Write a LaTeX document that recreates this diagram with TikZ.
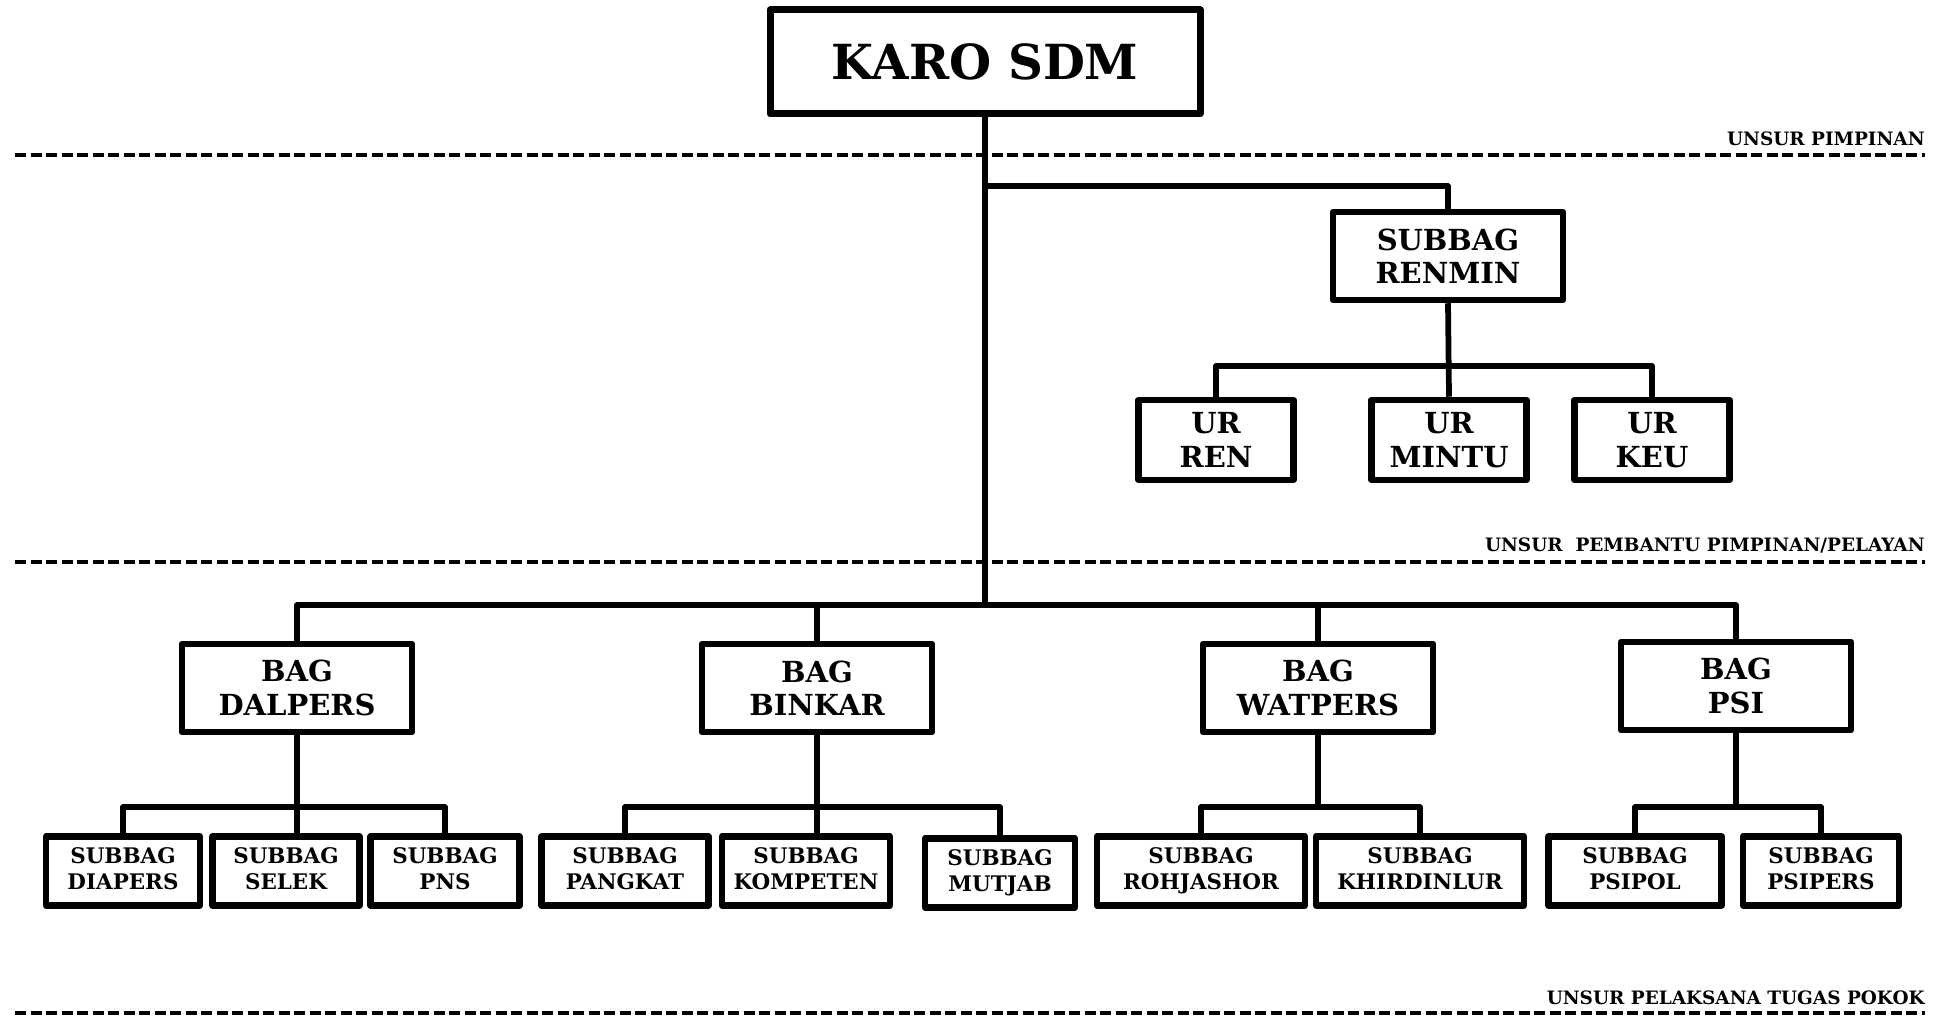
\documentclass[tikz,border=0pt]{standalone}
\usepackage{fontspec}
\setmainfont{DejaVu Serif}
\begin{document}
\begin{tikzpicture}[x=0.2mm,y=-0.2mm,line join=round,
  kepala/.style={draw,line width=1.4mm,inner sep=0pt,minimum width=86mm,minimum height=20.8mm,
    font=\bfseries\fontsize{27.5}{30}\selectfont},
  bagbox/.style={draw,line width=1.3mm,inner sep=0pt,align=center,minimum width=46mm,minimum height=17.6mm,
    font=\bfseries\fontsize{16.5}{19}\selectfont},
  urbox/.style={bagbox,minimum width=31mm,minimum height=16mm},
  subbox/.style={draw,line width=1.3mm,inner sep=0pt,align=center,minimum height=13.8mm,
    font=\bfseries\fontsize{12.2}{14.8}\selectfont,execute at end node={\vphantom{J}}},
  garis/.style={line width=1.15mm},
  batas/.style={line width=0.8mm,dash pattern=on 2.2mm off 0.9mm},
  ket/.style={anchor=east,inner sep=0pt,font=\bfseries\fontsize{10.5}{12}\selectfont}]
  \useasboundingbox (0,0) rectangle (1941,1018);
  \node[kepala] (karo) at (985,62) {KARO SDM};
  \node[bagbox] (renmin) at (1448,256) {SUBBAG\\RENMIN};
  \node[urbox] (ren) at (1216,440) {UR\\REN};
  \node[urbox] (mintu) at (1449,440) {UR\\MINTU};
  \node[urbox] (keu) at (1652,440) {UR\\KEU};
  \node[bagbox] (dalpers) at (297,688) {BAG\\DALPERS};
  \node[bagbox] (binkar) at (817,688) {BAG\\BINKAR};
  \node[bagbox] (watpers) at (1318,688) {BAG\\WATPERS};
  \node[bagbox] (psi) at (1736,686) {BAG\\PSI};
  \node[subbox,minimum width=30.8mm] (diapers) at (123,871) {SUBBAG\\DIAPERS};
  \node[subbox,minimum width=29.4mm] (selek) at (286,871) {SUBBAG\\SELEK};
  \node[subbox,minimum width=29.8mm] (pns) at (445,871) {SUBBAG\\PNS};
  \node[subbox,minimum width=33.4mm] (pangkat) at (625,871) {SUBBAG\\PANGKAT};
  \node[subbox,minimum width=33.6mm] (kompeten) at (806,871) {SUBBAG\\KOMPETEN};
  \node[subbox,minimum width=30mm] (mutjab) at (1000,873) {SUBBAG\\MUTJAB};
  \node[subbox,minimum width=41.6mm] (rohjashor) at (1201,871) {SUBBAG\\ROHJASHOR};
  \node[subbox,minimum width=41.6mm] (khirdinlur) at (1420,871) {SUBBAG\\KHIRDINLUR};
  \node[subbox,minimum width=34.6mm] (psipol) at (1635,871) {SUBBAG\\PSIPOL};
  \node[subbox,minimum width=31.2mm] (psipers) at (1821,871) {SUBBAG\\PSIPERS};
  \coordinate (hub) at (985,605);
  \draw[garis] (karo.south) -- (hub);
  \draw[garis] (karo.south |- 0,186) -| (renmin.north);
  \draw[garis] (renmin.south) -- (mintu.north);
  \draw[garis] (ren.north) |- (keu.north |- 0,366) -- (keu.north);
  \draw[garis] (dalpers.north) |- (psi.north |- hub) -- (psi.north);
  \draw[garis] (binkar.north) -- (binkar.north |- hub);
  \draw[garis] (watpers.north) -- (watpers.north |- hub);
  \draw[garis] (dalpers.south) -- (dalpers.south |- selek.north);
  \draw[garis] (diapers.north) |- (pns.north |- 0,807) -- (pns.north);
  \draw[garis] (binkar.south) -- (binkar.south |- kompeten.north);
  \draw[garis] (pangkat.north) |- (mutjab.north |- 0,807) -- (mutjab.north);
  \draw[garis] (watpers.south) -- (watpers.south |- 0,807);
  \draw[garis] (rohjashor.north) |- (khirdinlur.north |- 0,807) -- (khirdinlur.north);
  \draw[garis] (psi.south) -- (psi.south |- 0,807);
  \draw[garis] (psipol.north) |- (psipers.north |- 0,807) -- (psipers.north);
  \draw[batas] (15,155) -- (1925,155);
  \draw[batas] (15,562) -- (1925,562);
  \draw[batas] (15,1013) -- (1925,1013);
  \node[ket] (pimpinan) at (1925,139) {UNSUR PIMPINAN};
  \node[ket] (pembantu) at (1925,546) {UNSUR\ \ PEMBANTU PIMPINAN/PELAYAN};
  \node[ket] (pelaksana) at (1925,998) {UNSUR PELAKSANA TUGAS POKOK};
\end{tikzpicture}
\end{document}
